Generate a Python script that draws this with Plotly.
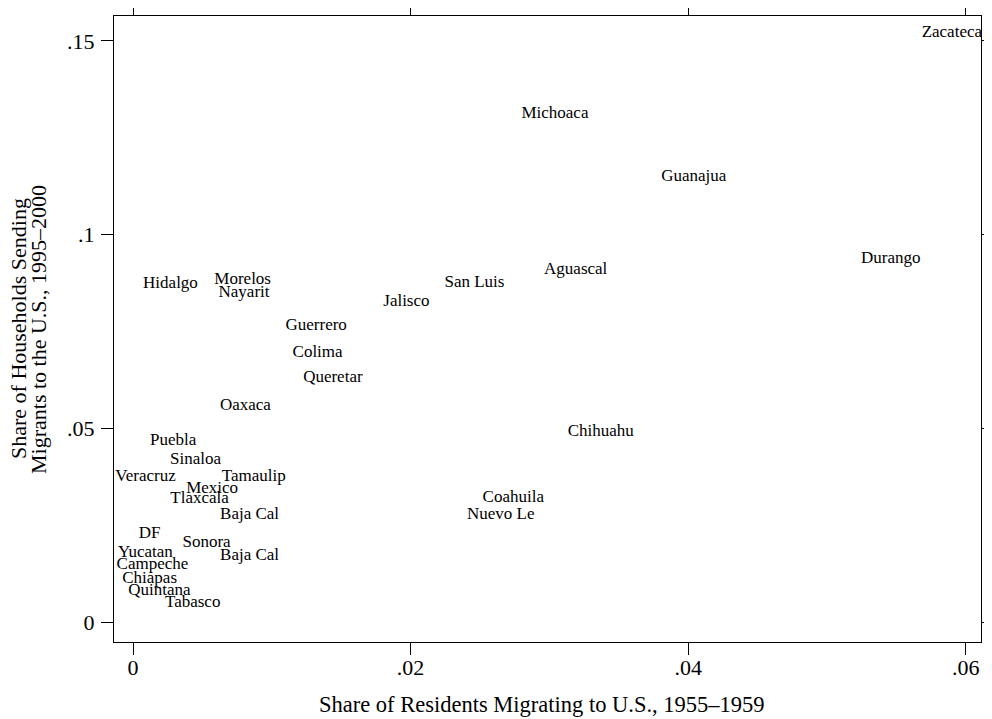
import plotly.graph_objects as go

estados = ['Zacateca', 'Michoaca', 'Guanajua', 'Durango', 'Aguascal', 'San Luis', 'Jalisco',
           'Hidalgo', 'Morelos', 'Nayarit', 'Guerrero', 'Colima', 'Queretar', 'Oaxaca',
           'Chihuahu', 'Coahuila', 'Nuevo Le', 'Puebla', 'Sinaloa', 'Veracruz', 'Tamaulip',
           'Mexico', 'Tlaxcala', 'Baja Cal', 'DF', 'Sonora', 'Yucatan', 'Baja Cal',
           'Campeche', 'Chiapas', 'Quintana', 'Tabasco']

migracao_1955 = [0.0590, 0.0304, 0.0404, 0.0546, 0.0319, 0.0246, 0.0197,
                 0.0027, 0.0079, 0.0080, 0.0132, 0.0133, 0.0144, 0.0081,
                 0.0337, 0.0274, 0.0265, 0.0029, 0.0045, 0.0009, 0.0087,
                 0.0057, 0.0048, 0.0084, 0.0012, 0.0053, 0.0009, 0.0084,
                 0.0014, 0.0012, 0.0019, 0.0043]

domicilios_1995 = [0.1520, 0.1312, 0.1149, 0.0938, 0.0910, 0.0876, 0.0827,
                   0.0874, 0.0884, 0.0851, 0.0765, 0.0696, 0.0631, 0.0559,
                   0.0490, 0.0322, 0.0278, 0.0467, 0.0420, 0.0376, 0.0374,
                   0.0345, 0.0319, 0.0278, 0.0227, 0.0204, 0.0178, 0.0170,
                   0.0147, 0.0113, 0.0080, 0.0049]

x_ticks = [0, 0.02, 0.04, 0.06]
x_tick_text = ['0', '.02', '.04', '.06']
y_ticks = [0, 0.05, 0.1, 0.15]
y_tick_text = ['0', '.05', '.1', '.15']

titulo_x = 'Share of Residents Migrating to U.S., 1955–1959'
titulo_y = ['Share of Households Sending', 'Migrants to the U.S., 1995–2000']

fonte = 'Liberation Serif'

fig = go.Figure()
fig.add_trace(go.Scatter(x=migracao_1955, y=domicilios_1995, mode='text', text=estados,
                         textposition='middle center',
                         textfont=dict(family=fonte, size=17, color='black'),
                         showlegend=False, hoverinfo='skip'))

eixo = dict(showline=True, linecolor='black', linewidth=1, mirror='ticks',
            ticks='outside', ticklen=12, tickcolor='black', tickwidth=1,
            showgrid=False, zeroline=False, automargin=False,
            tickfont=dict(family=fonte, size=22, color='black'))

# a pagina tem margem de 8px no body, por isso 984x711
fig.update_layout(
    width=984, height=711,
    paper_bgcolor='white', plot_bgcolor='white',
    margin=dict(l=106, r=11, t=8, b=77),
    xaxis=dict(eixo, range=[-0.00137, 0.0611], tickvals=x_ticks, ticktext=x_tick_text,
               ticklabelstandoff=-6),
    yaxis=dict(eixo, range=[-0.00515, 0.1564], tickvals=y_ticks, ticktext=y_tick_text,
               ticklabelstandoff=2),
)

fig.add_annotation(text=titulo_x, xref='paper', yref='paper', x=0.4937, y=-0.1006,
                   xanchor='center', yanchor='middle', showarrow=False,
                   font=dict(family=fonte, size=22.5, color='black'))
for texto, pos in zip(titulo_y, [-0.1107, -0.0877]):
    fig.add_annotation(text=texto, xref='paper', yref='paper', x=pos, y=0.5,
                       xanchor='center', yanchor='middle', showarrow=False, textangle=-90,
                       font=dict(family=fonte, size=22, color='black'))

fig.write_html("out.html")
